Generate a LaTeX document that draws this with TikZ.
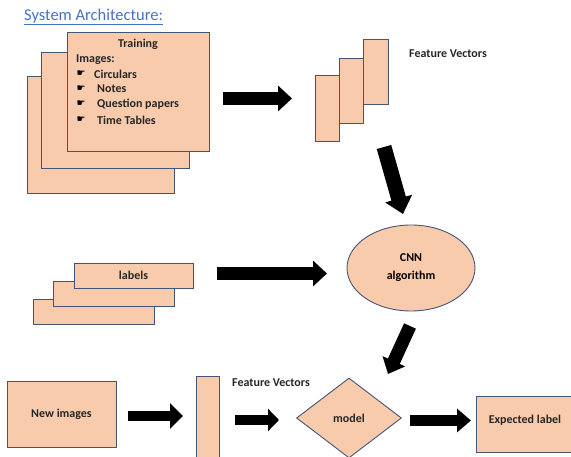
\documentclass[tikz,border=0pt]{standalone}
\usepackage{fontspec}
\setmainfont{Carlito}
\newfontfamily\symfont{DejaVu Sans}
\usetikzlibrary{arrows.meta,shapes.geometric}
\definecolor{peach}{RGB}{248,203,173}
\definecolor{edge}{RGB}{68,84,116}
\definecolor{titleblue}{RGB}{68,114,196}
\tikzset{
  box/.style={draw=edge, fill=peach, line width=0.9pt, inner sep=0pt, rectangle},
  lbl/.style={font=\fontsize{12}{14}\selectfont\bfseries, inner sep=0pt, text=black!85},
}
\newcommand{\boxat}[5]{% name, x1,y1,x2,y2
  \node[box, minimum width={(#4-#2)*1pt}, minimum height={(#5-#3)*1pt}] (#1) at ({(#2+#4)/2},{(#3+#5)/2}) {};}
\begin{document}
\begin{tikzpicture}[x=1pt,y=-1pt]
\useasboundingbox (0,0) rectangle (571,457);
% title
\node[anchor=west, inner sep=0pt, text=titleblue, font=\fontsize{16.5}{18}\selectfont] (title) at (24,17) {\underline{System Architecture:}};
% training stack
\boxat{tr3}{27}{76}{174}{193}
\boxat{tr2}{41}{52}{189}{168}
\boxat{tr1}{67}{32}{209}{151}
\node[lbl] (trt) at (138,44) {Training};
\node[lbl, anchor=west] (tri) at (76,60) {Images:};
\foreach \t/\yy/\xx [count=\i] in {Circulars/74/94, Notes/89/97, Question papers/104/97, Time Tables/120/97}{
  \node[inner sep=0pt, font=\symfont\fontsize{10}{11}\selectfont] (bul\i) at (81,\yy) {☛};
  \node[lbl, anchor=west] (it\i) at (\xx,\yy) {\t};
}
% feature vectors top
\boxat{fv1}{315}{75}{339}{141}
\boxat{fv2}{339}{58}{363}{123}
\boxat{fv3}{363}{39}{388}{104}
\node[lbl, anchor=west] (fvt) at (409,54) {Feature Vectors};
% CNN
\node[ellipse, draw=edge, fill=peach, line width=0.9pt, minimum width=128pt, minimum height=86pt, inner sep=0pt, align=center, font=\fontsize{12}{18}\selectfont\bfseries] (cnn) at (411,268) {CNN\\algorithm};
% labels stack
\boxat{l3}{33}{299}{154}{324}
\boxat{l2}{53}{281}{174}{306}
\boxat{l1}{74}{263}{193}{288}
\node[lbl] (lt) at (133.5,275.5) {labels};
% bottom row
\boxat{newimg}{7}{381}{116}{447}
\node[lbl] (nit) at (61.5,414) {New images};
\boxat{fvb}{196}{376}{219}{464}
\node[lbl, anchor=west] (fvbt) at (232,383) {Feature Vectors};
\node[diamond, draw=edge, fill=peach, line width=0.9pt, minimum width=105pt, minimum height=80pt, inner sep=0pt, lbl] (model) at (349,418) {model};
\boxat{exp}{476}{396}{575}{452}
\node[lbl] (expt) at (525,420) {Expected label};
% arrow coordinates
\coordinate (a1s) at (223,98.5);  \coordinate (a1e) at (292,98.5);
\coordinate (a2s) at (384,147);   \coordinate (a2e) at (403,214);
\coordinate (a3s) at (217,273.5); \coordinate (a3e) at (327,273.5);
\coordinate (a4s) at (410,326);   \coordinate (a4e) at (388,374);
\coordinate (a5s) at (128,416);   \coordinate (a5e) at (183,416);
\coordinate (a6s) at (235,420);   \coordinate (a6e) at (279,420);
\coordinate (a7s) at (410,420.5); \coordinate (a7e) at (471,420.5);
\draw[line width=13pt, -{Triangle[length=14pt,width=25pt]}] (a1s) -- (a1e);
\draw[line width=15pt, -{Triangle[length=16pt,width=27pt]}] (a2s) -- (a2e);
\draw[line width=13pt, -{Triangle[length=14pt,width=25pt]}] (a3s) -- (a3e);
\draw[line width=13pt, -{Triangle[length=14pt,width=24pt]}] (a4s) -- (a4e);
\draw[line width=10pt, -{Triangle[length=13pt,width=25pt]}] (a5s) -- (a5e);
\draw[line width=10pt, -{Triangle[length=11pt,width=22pt]}] (a6s) -- (a6e);
\draw[line width=10pt, -{Triangle[length=14pt,width=23pt]}] (a7s) -- (a7e);
\end{tikzpicture}
\end{document}
